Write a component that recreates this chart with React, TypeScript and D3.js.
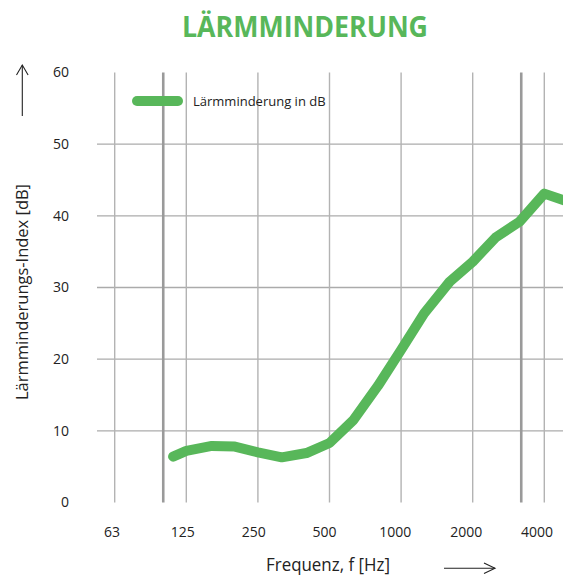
import React from "react";
import * as d3 from "d3";

// third-octave band centres (Hz) and the measured reduction (dB)
const freqs = [110, 125, 160, 200, 250, 315, 400, 500, 630, 800, 1000, 1250, 1600, 2000, 2500, 3150, 4000, 5000];
const reduction = [6.4, 7.2, 7.9, 7.8, 7.0, 6.3, 6.9, 8.3, 11.5, 16.3, 21.3, 26.4, 30.8, 33.6, 37.0, 39.2, 43.1, 42.0];

const gridFreqs = [62.5, 125, 250, 500, 1000, 2000, 4000];
const tickLabels = ["63", "125", "250", "500", "1000", "2000", "4000"];
const rangeLimits = [100, 3200]; // thicker lines: measuring range
const yTicks = [0, 10, 20, 30, 40, 50, 60];

const title = "LÄRMMINDERUNG";
const seriesName = "Lärmminderung in dB";
const yTitle = "Lärmminderungs-Index [dB]";
const xTitle = "Frequenz, f [Hz]";

const W = 563;
const H = 575;
const green = "#58b75a";
const font = "'Open Sans', sans-serif";

export default function App() {
  const x = d3.scaleLog().domain([62.5, 4000]).range([114.7, 544.3]);
  const xLabel = d3.scaleLog().domain([62.5, 4000]).range([112, 537]);
  const y = d3.scaleLinear().domain([0, 60]).range([502.5, 72.5]);

  const line = d3
    .line<number>()
    .x((_, i) => x(freqs[i]))
    .y((d) => y(d));

  return (
    <svg width={W} height={H} style={{ position: "absolute", left: 0, top: 0, overflow: "hidden" }}>
      <rect width={W} height={H} fill="#fff" />
      <text x={305} y={37} textAnchor="middle" fontFamily={font} fontWeight={700} fontSize={28} fill={green} textLength={246} lengthAdjust="spacingAndGlyphs">
        {title}
      </text>

      {/* horizontal grid */}
      {yTicks.filter((t) => t > 0 && t < 60).map((t) => (
        <line key={"h" + t} x1={97} x2={W + 5} y1={y(t)} y2={y(t)} stroke="#ababab" strokeWidth={1.4} />
      ))}
      {/* vertical grid */}
      {gridFreqs.map((f) => (
        <line key={"v" + f} x1={x(f)} x2={x(f)} y1={y(60)} y2={y(0)} stroke="#b3b3b3" strokeWidth={1.4} />
      ))}
      {rangeLimits.map((f) => (
        <line key={"r" + f} x1={x(f)} x2={x(f)} y1={y(60)} y2={y(0)} stroke="#9a9a9a" strokeWidth={2.6} />
      ))}

      {/* y tick labels */}
      {yTicks.map((t) => (
        <text key={"yt" + t} x={69} y={y(t)} dy="0.35em" textAnchor="end" fontFamily={font} fontSize={14} fill="#222">
          {t}
        </text>
      ))}
      {/* x tick labels */}
      {gridFreqs.map((f, i) => (
        <text key={"xt" + f} x={xLabel(f)} y={537} textAnchor="middle" fontFamily={font} fontSize={14} fill="#222">
          {tickLabels[i]}
        </text>
      ))}

      {/* data */}
      <path d={line(reduction) || ""} fill="none" stroke={green} strokeWidth={10} strokeLinecap="round" strokeLinejoin="round" />

      {/* legend */}
      <line x1={137} x2={178} y1={101} y2={101} stroke={green} strokeWidth={10} strokeLinecap="round" />
      <text x={193} y={106} fontFamily={font} fontSize={13} fill="#222">
        {seriesName}
      </text>

      {/* axis titles and arrows */}
      <text transform="translate(28,292) rotate(-90)" textAnchor="middle" fontFamily={font} fontSize={17} fill="#222" textLength={216} lengthAdjust="spacingAndGlyphs">
        {yTitle}
      </text>
      <g stroke="#222" strokeWidth={1.1} fill="none">
        <line x1={22.3} x2={22.3} y1={116} y2={65} />
        <polyline points="16.5,75 22.3,65 28.1,75" />
        <line x1={444} x2={495} y1={568.3} y2={568.3} />
        <polyline points="484,563 495,568.3 484,573.6" />
      </g>
      <text x={266} y={571} fontFamily={font} fontSize={17.5} fill="#222" textLength={124} lengthAdjust="spacingAndGlyphs">
        {xTitle}
      </text>
    </svg>
  );
}
